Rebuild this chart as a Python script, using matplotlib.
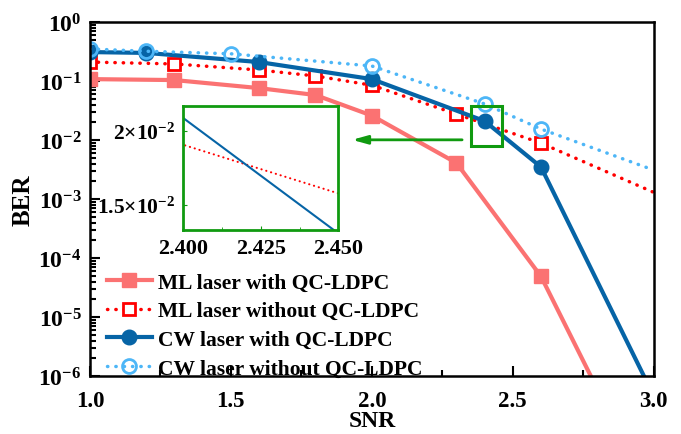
import numpy as np
import matplotlib
matplotlib.use("Agg")
import matplotlib.pyplot as plt
from matplotlib.patches import Rectangle
from matplotlib.ticker import FixedLocator, MultipleLocator, LogLocator, NullFormatter

plt.rcParams['font.family'] = 'Liberation Serif'
plt.rcParams['font.weight'] = 'bold'
plt.rcParams['mathtext.fontset'] = 'custom'
plt.rcParams['mathtext.rm'] = 'Liberation Serif:bold'
plt.rcParams['mathtext.bf'] = 'Liberation Serif:bold'
plt.rcParams['mathtext.default'] = 'bf'

# data
snr_ml = [1.0, 1.3, 1.6, 1.8, 2.0, 2.3, 2.6, 2.8]
ber_ml = [0.108, 0.104, 0.076, 0.058, 0.026, 0.0041, 4.9e-5, 6e-7]

snr_ml_raw = [1.0, 1.3, 1.6, 1.8, 2.0, 2.3, 2.6, 3.0]
ber_ml_raw = [0.21, 0.195, 0.154, 0.122, 0.085, 0.0276, 0.0089, 0.0013]

snr_cw = [1.0, 1.2, 1.6, 2.0, 2.4, 2.6, 3.0]
ber_cw = [0.31, 0.30, 0.21, 0.108, 0.021, 0.0035, 4.6e-7]

snr_cw_raw = [1.0, 1.2, 1.5, 2.0, 2.4, 2.6, 3.0]
ber_cw_raw = [0.35, 0.32, 0.29, 0.18, 0.041, 0.0154, 0.0031]

labels = ["ML laser with QC-LDPC", "ML laser without QC-LDPC",
          "CW laser with QC-LDPC", "CW laser without QC-LDPC"]

y_ticks = [1e-6, 1e-5, 1e-4, 1e-3, 1e-2, 1e-1, 1]
y_ticklabels = [r"$\mathbf{10^{-6}}$", r"$\mathbf{10^{-5}}$", r"$\mathbf{10^{-4}}$", r"$\mathbf{10^{-3}}$",
                r"$\mathbf{10^{-2}}$", r"$\mathbf{10^{-1}}$", r"$\mathbf{10^{0}}$"]

c_ml = "#fb7272"
c_ml_raw = "#ff0000"
c_cw = "#0664a6"
c_cw_raw = "#4db6f7"
green = "#109a10"
dots = (0, (0.1, 2.3))

fig = plt.figure(figsize=(6.81, 4.35), dpi=100)
ax = fig.add_axes([0.132, 0.133, 0.828, 0.814])

ax.plot(snr_ml, ber_ml, color=c_ml, lw=3, marker='s', ms=9.5, markevery=list(range(7)), label=labels[0])
ax.plot(snr_ml_raw, ber_ml_raw, color=c_ml_raw, lw=2.5, ls=dots, dash_capstyle='round',
        marker='s', ms=9, mfc='white', mec=c_ml_raw, mew=2, markevery=list(range(7)), label=labels[1])
ax.plot(snr_cw, ber_cw, color=c_cw, lw=3, marker='o', ms=10.5, markevery=list(range(6)), label=labels[2])
ax.plot(snr_cw_raw, ber_cw_raw, color=c_cw_raw, lw=2.5, ls=dots, dash_capstyle='round',
        marker='o', ms=10, mfc='none', mec=c_cw_raw, mew=2, markevery=list(range(6)), label=labels[3])

ax.set_yscale('log')
ax.set_xlim(1.0, 3.0)
ax.set_ylim(1e-6, 1)
ax.xaxis.set_major_locator(FixedLocator([1.0, 1.5, 2.0, 2.5, 3.0]))
ax.xaxis.set_minor_locator(MultipleLocator(0.25))
ax.set_xticklabels(["1.0", "1.5", "2.0", "2.5", "3.0"], fontsize=16.5, fontweight='bold')
ax.yaxis.set_major_locator(FixedLocator(y_ticks))
ax.yaxis.set_minor_locator(LogLocator(base=10, subs=np.arange(2, 10), numticks=10))
ax.yaxis.set_minor_formatter(NullFormatter())
ax.set_yticklabels(y_ticklabels, fontsize=17)
ax.tick_params(axis='both', which='both', direction='in', top=False, right=False, width=1.5)
ax.tick_params(axis='both', which='major', length=7)
ax.tick_params(axis='both', which='minor', length=4)
ax.tick_params(axis='x', which='major', pad=10)
ax.tick_params(axis='y', which='major', pad=6)
for s in ax.spines.values():
    s.set_linewidth(1.8)
ax.set_xlabel("SNR", fontsize=17, fontweight='bold', labelpad=-1)
ax.set_ylabel("BER", fontsize=18, fontweight='bold', labelpad=3)

leg = ax.legend(loc='lower left', bbox_to_anchor=(0.02, -0.022), frameon=False,
                prop={'size': 15.5, 'weight': 'bold'}, borderpad=0.15,
                handlelength=2.1, labelspacing=0.4, handletextpad=0.3, borderaxespad=0.1)

# zoom box and arrow
ax.add_patch(Rectangle((2.35, 0.0079), 0.11, 0.038 - 0.0079, fill=False, ec=green, lw=2.2, zorder=5))
ax.annotate("", xy=(1.92, 0.0101), xytext=(2.33, 0.0101),
            arrowprops=dict(arrowstyle='-|>,head_length=0.9,head_width=0.25', color=green, lw=2))

# inset
axin = fig.add_axes([0.269, 0.469, 0.228, 0.285])
axin.plot(snr_ml_raw, ber_ml_raw, color=c_ml_raw, lw=1.5, ls=dots, dash_capstyle='round')
axin.plot(snr_cw, ber_cw, color=c_cw, lw=1.5)
axin.set_yscale('log')
axin.set_xlim(2.4, 2.45)
axin.set_ylim(0.0136, 0.0220)
axin.yaxis.set_major_locator(FixedLocator([0.015, 0.02]))
axin.yaxis.set_minor_locator(FixedLocator([]))
axin.yaxis.set_minor_formatter(NullFormatter())
axin.set_yticklabels([r"$\mathbf{1.5{\times}10^{-2}}$", r"$\mathbf{2{\times}10^{-2}}$"], fontsize=15.5)
axin.xaxis.set_major_locator(FixedLocator([2.4, 2.425, 2.45]))
axin.xaxis.set_minor_locator(MultipleLocator(0.0125))
axin.set_xticklabels(["2.400", "2.425", "2.450"], fontsize=16, fontweight='bold')
axin.tick_params(axis='both', which='both', direction='in', color=green, top=False, right=False)
axin.tick_params(axis='both', which='major', length=3, pad=6)
axin.tick_params(axis='both', which='minor', length=2)
for s in axin.spines.values():
    s.set_color(green)
    s.set_linewidth(2)

fig.savefig("out.png", dpi=100)
